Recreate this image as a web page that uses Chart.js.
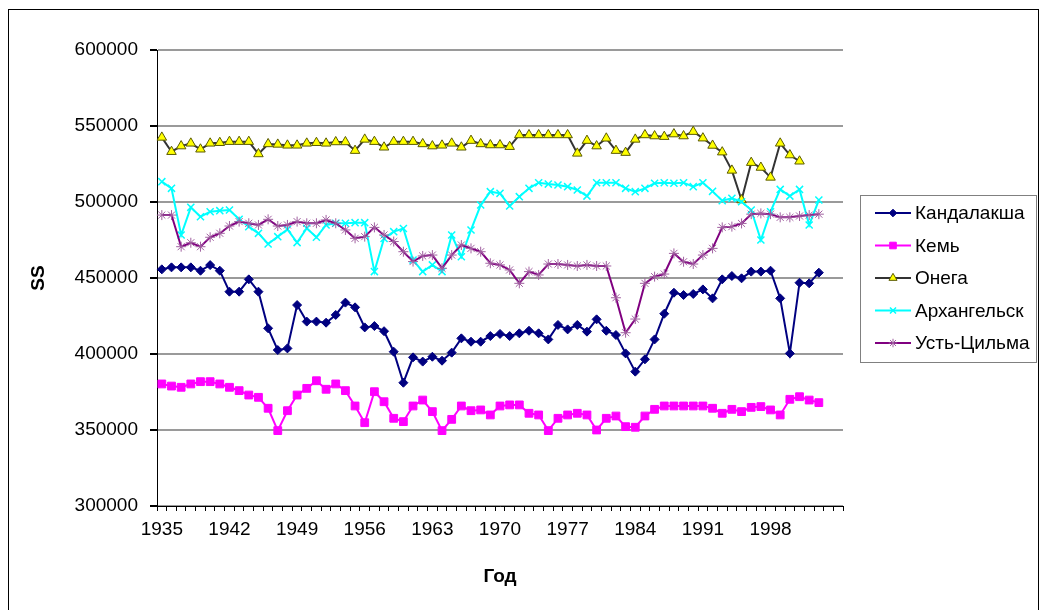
<!DOCTYPE html>
<html><head><meta charset="utf-8">
<script src="https://cdn.jsdelivr.net/npm/chart.js@4/dist/chart.umd.min.js"></script>
<style>
html,body{margin:0;padding:0;background:#fff;}
canvas{display:block;}
</style></head><body>
<canvas id="c" width="1046" height="610"></canvas>
<script>
const years = ['1935','1936','1937','1938','1939','1940','1941','1942','1943','1944','1945','1946','1947','1948','1949','1950','1951','1952','1953','1954','1955','1956','1957','1958','1959','1960','1961','1962','1963','1964','1965','1966','1967','1968','1969','1970','1971','1972','1973','1974','1975','1976','1977','1978','1979','1980','1981','1982','1983','1984','1985','1986','1987','1988','1989','1990','1991','1992','1993','1994','1995','1996','1997','1998','1999','2000','2001','2002','2003','2004','2005'];

const shownYearLabels = ['1935','1942','1949','1956','1963','1970','1977','1984','1991','1998'];

const seriesNames = ['Кандалакша','Кемь','Онега','Архангельск','Усть-Цильма'];

const kandalaksha = [455700,457000,457000,457000,454800,458500,454800,441000,441000,449100,441000,416900,402600,403700,432200,421300,421300,420600,425700,433800,430700,417500,418400,415000,401500,381100,397800,395000,398200,395600,400900,410300,408100,408100,411800,413200,411800,413600,415300,413600,409600,419100,416200,419100,414700,422800,415300,412500,400400,388400,396500,409600,426500,440300,438800,439500,442500,436600,449100,451300,449800,454200,454200,454800,436600,400400,446900,446500,453500];

const kem = [380300,378900,378100,380300,381800,381800,380300,378100,375900,373000,371500,364300,349600,362700,373000,377400,382400,376800,380300,375900,365800,354800,375200,368600,357700,355500,365800,369700,362100,349600,357000,365800,362700,363200,359900,365800,366500,366500,361000,359900,349600,357700,359900,361000,359900,350000,357700,359200,352200,351800,359200,363600,365800,365800,365800,365800,365800,364300,361000,363600,362100,364900,365400,363200,359900,370200,371900,369700,368000];

const onega = [542500,533100,536800,538600,534700,538600,539000,539700,539700,539700,531600,538200,537900,537300,537300,538600,539000,538600,539500,539500,533800,541200,539700,536000,539700,539700,539700,538200,536800,537300,538600,536000,540400,538200,537500,537500,536400,544100,544100,544100,544100,544100,544100,532000,540400,536800,541900,533800,532500,541200,544100,543400,543000,544700,543400,546300,542000,537200,532800,520800,501300,525900,522700,516200,538600,530900,526800];

const arkhangelsk = [513400,509000,478300,496500,490300,493600,494300,494700,488600,483800,479400,472400,477200,482000,473300,482700,476800,484900,486000,486000,486400,486400,454200,476000,480500,482600,461800,454200,458600,454200,478300,464000,481600,498000,506800,505700,497400,503500,509000,512700,511800,511200,510100,507900,503900,512700,512700,512700,509000,506800,509000,512300,512700,512300,512700,510100,512700,507000,500900,502400,500200,494700,475000,493600,508300,503900,508300,484900,501300];

const ustTsilma = [491400,491400,470600,473200,470600,476800,479400,484200,487100,486000,484900,488600,484200,484900,487100,486000,486000,488200,486000,481600,476100,477200,483300,478300,474000,467300,460800,464500,465100,456400,465100,471700,469500,467300,459700,458600,455300,446500,454200,452000,459200,459200,458600,457900,458600,457900,457900,437000,414000,423000,446500,450900,452600,466200,460700,459200,465100,469500,483300,483800,485900,492000,492500,492000,489900,489900,490800,491400,492000];

const FONT = '"Liberation Sans", Arial, sans-serif';

function drawMarker(ctx, style, r, x, y) {
  if (Chart.helpers && Chart.helpers.drawPoint) {
    Chart.helpers.drawPoint(ctx, {pointStyle: style, radius: r, borderWidth: ctx.lineWidth, rotation: 0}, x, y);
  }
}

const excelLegend = {
  id: 'excelLegend',
  afterDraw(chart) {
    const ctx = chart.ctx;
    ctx.save();
    ctx.strokeStyle = '#000';
    ctx.lineWidth = 1;
    ctx.strokeRect(8.5, 9.5, 1030, 640);
    ctx.strokeStyle = '#808080';
    ctx.strokeRect(860.5, 195.5, 176, 167);
    chart.data.datasets.forEach((ds, i) => {
      const y = 213 + i * 32.5;
      ctx.strokeStyle = ds.borderColor;
      ctx.lineWidth = 2;
      ctx.beginPath(); ctx.moveTo(875, y); ctx.lineTo(911, y); ctx.stroke();
      ctx.fillStyle = ds.pointBackgroundColor;
      ctx.strokeStyle = ds.pointBorderColor;
      ctx.lineWidth = ds.pointBorderWidth;
      drawMarker(ctx, ds.pointStyle, ds.pointRadius * 0.85, 893, y);
      ctx.fillStyle = '#000';
      ctx.font = '19px ' + FONT;
      ctx.textBaseline = 'middle';
      ctx.textAlign = 'left';
      ctx.fillText(ds.label, 915, y + 1);
    });
    ctx.restore();
  }
};

const mk = (label, data, line, style, r, bg, bd, bw, order) => ({
  label, data, borderColor: line, borderWidth: 2, tension: 0, fill: false,
  pointStyle: style, pointRadius: r, pointHoverRadius: r,
  pointBackgroundColor: bg, pointBorderColor: bd, pointBorderWidth: bw, order
});

new Chart(document.getElementById('c'), {
  type: 'line',
  data: {
    labels: years,
    datasets: [
      mk(seriesNames[0], kandalaksha, '#000080', 'rectRot', 4.5, '#000080', '#000080', 1, 4),
      mk(seriesNames[1], kem, '#FF00FF', 'rect', 5.5, '#FF00FF', '#FF00FF', 1, 3),
      mk(seriesNames[2], onega, '#333333', 'triangle', 5.5, '#FFFF00', '#5a5a00', 1, 2),
      mk(seriesNames[3], arkhangelsk, '#00FFFF', 'crossRot', 5, '#00FFFF', '#00FFFF', 1.5, 1),
      mk(seriesNames[4], ustTsilma, '#800080', 'star', 5, '#b070b0', '#a060a0', 1, 0)
    ]
  },
  options: {
    responsive: false,
    animation: false,
    devicePixelRatio: 1,
    layout: {padding: {left: 0, top: 50, right: 203, bottom: 0}},
    plugins: {legend: {display: false}, tooltip: {enabled: false}},
    scales: {
      x: {
        type: 'category',
        offset: true,
        grid: {offset: true, drawOnChartArea: false, drawTicks: true, tickLength: 5, color: '#000', lineWidth: 1},
        border: {display: true, color: '#000', width: 1},
        ticks: {
          autoSkip: false, maxRotation: 0, minRotation: 0, padding: 7,
          color: '#000', font: {family: FONT, size: 19},
          callback: function (v) {
            const lab = this.getLabelForValue(v);
            return shownYearLabels.includes(lab) ? lab : '';
          }
        },
        title: {display: true, text: 'Год', color: '#000', font: {family: FONT, size: 19, weight: 'bold'}, padding: {top: 0, bottom: 22}},
        afterFit: s => { s.height = 104; }
      },
      y: {
        min: 300000, max: 600000,
        grid: {color: '#9a9a9a', lineWidth: 2, tickColor: '#000', tickLength: 7, drawTicks: true},
        border: {display: true, color: '#000', width: 1},
        ticks: {stepSize: 50000, padding: 12, color: '#000', font: {family: FONT, size: 19},
          callback: v => String(v)},
        title: {display: true, text: 'SS', color: '#000', font: {family: FONT, size: 19, weight: 'bold'}, padding: {top: 27, bottom: 0}},
        afterFit: s => { s.width = 157; }
      }
    }
  },
  plugins: [excelLegend]
});
</script>
</body></html>
